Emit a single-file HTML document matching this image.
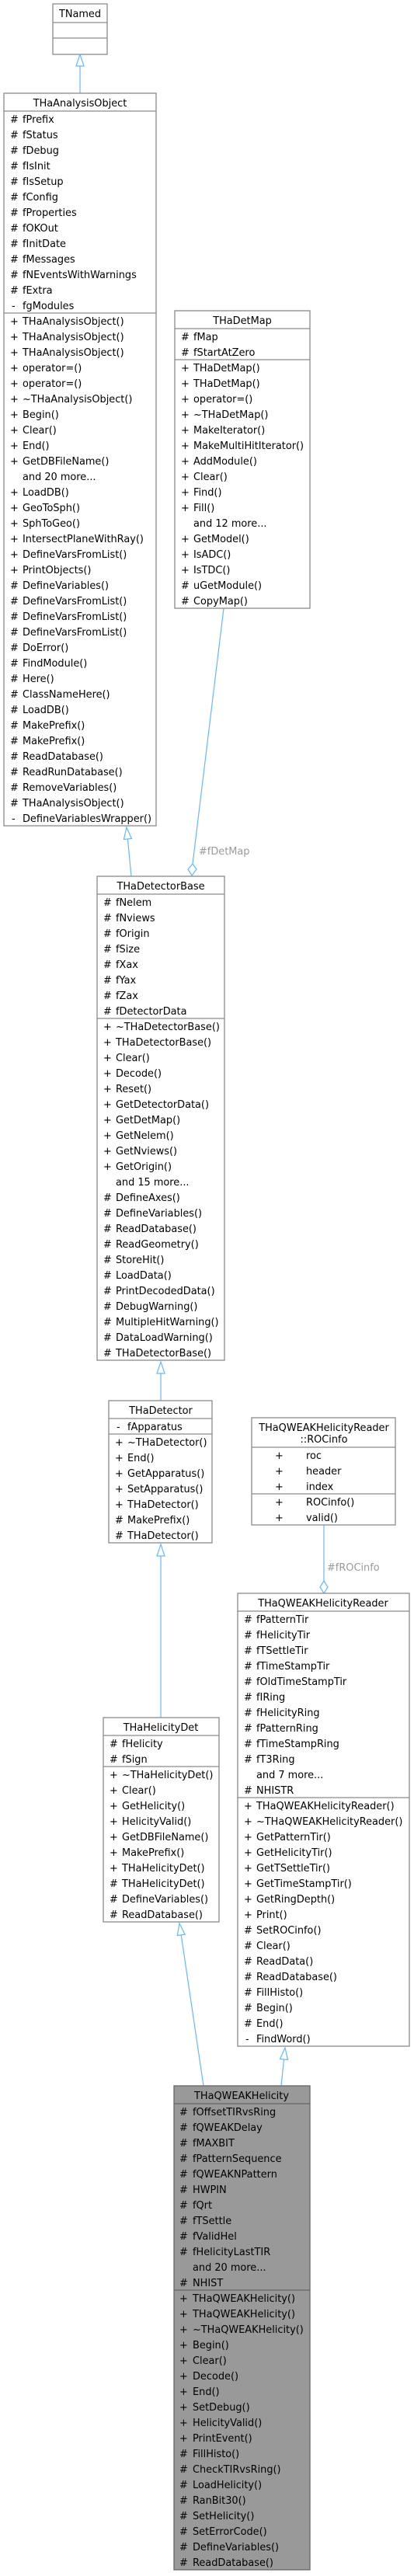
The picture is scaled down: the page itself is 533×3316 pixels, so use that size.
<!DOCTYPE html>
<html><head><meta charset="utf-8"><style>
html,body{margin:0;padding:0;background:#fff}
svg{display:block}
text{font-family:"DejaVu Sans","Liberation Sans",sans-serif;font-size:12.9px;fill:#000}
.c{text-anchor:middle}
.lbl{fill:#9a9a9a}
.b{fill:#fff;stroke:#8a8a8a;stroke-width:1.3}
.g{fill:#999;stroke:#666;stroke-width:1.3}
.s{stroke:#8a8a8a;stroke-width:1.3}
.sg{stroke:#666;stroke-width:1.3}
.e{stroke:#63b8ff;stroke-width:1.2;fill:none}
.ah{stroke:#63b8ff;stroke-width:1.2;fill:#fff}
</style></head><body>
<svg width="533" height="3316" viewBox="0 0 533 3316" xmlns="http://www.w3.org/2000/svg">
<line class="e" x1="103" y1="120" x2="103" y2="85"/>
<polygon class="ah" points="103,70 98,85 108,85"/>
<line class="e" x1="169" y1="1128" x2="164.4" y2="1080"/>
<polygon class="ah" points="163,1065 169.4,1079.5 159.4,1080.5"/>
<line class="e" x1="288" y1="783" x2="248" y2="1112"/>
<polygon class="ah" points="248,1112 253,1119 247,1127 242,1119"/>
<text class="lbl" x="256" y="1100">#fDetMap</text>
<line class="e" x1="207" y1="1803" x2="207" y2="1768"/>
<polygon class="ah" points="207,1753 202,1768 212,1768"/>
<line class="e" x1="207" y1="2211" x2="207" y2="2003"/>
<polygon class="ah" points="207,1988 202,2003 212,2003"/>
<line class="e" x1="417" y1="1963" x2="417" y2="2035"/>
<polygon class="ah" points="417,2035 422,2043 417,2051 412,2043"/>
<text class="lbl" x="421" y="2022">#fROCinfo</text>
<line class="e" x1="262" y1="2685" x2="233.2" y2="2490.8"/>
<polygon class="ah" points="231,2476 238.2,2490.1 228.3,2491.5"/>
<line class="e" x1="362" y1="2685" x2="365.5" y2="2651"/>
<polygon class="ah" points="367,2636 370.5,2651.5 360.5,2650.5"/>

<rect class="b" x="68" y="5" width="70" height="65"/>
<line class="s" x1="68" y1="29" x2="138" y2="29"/><line class="s" x1="68" y1="49" x2="138" y2="49"/>
<text class="c" x="103" y="22">TNamed</text>

<rect class="b" x="5" y="120" width="196" height="943"/>
<line class="s" x1="5" y1="143" x2="201" y2="143"/><line class="s" x1="5" y1="403" x2="201" y2="403"/>
<text class="c" x="103" y="137">THaAnalysisObject</text>
<g>
<text x="13" y="158">#</text><text x="29" y="158">fPrefix</text>
<text x="13" y="178">#</text><text x="29" y="178">fStatus</text>
<text x="13" y="198">#</text><text x="29" y="198">fDebug</text>
<text x="13" y="218">#</text><text x="29" y="218">fIsInit</text>
<text x="13" y="238">#</text><text x="29" y="238">fIsSetup</text>
<text x="13" y="258">#</text><text x="29" y="258">fConfig</text>
<text x="13" y="278">#</text><text x="29" y="278">fProperties</text>
<text x="13" y="298">#</text><text x="29" y="298">fOKOut</text>
<text x="13" y="318">#</text><text x="29" y="318">fInitDate</text>
<text x="13" y="338">#</text><text x="29" y="338">fMessages</text>
<text x="13" y="358">#</text><text x="29" y="358">fNEventsWithWarnings</text>
<text x="13" y="378">#</text><text x="29" y="378">fExtra</text>
<text x="15" y="398">-</text><text x="29" y="398">fgModules</text>
<text x="13" y="418">+</text><text x="29" y="418">THaAnalysisObject()</text>
<text x="13" y="438">+</text><text x="29" y="438">THaAnalysisObject()</text>
<text x="13" y="458">+</text><text x="29" y="458">THaAnalysisObject()</text>
<text x="13" y="478">+</text><text x="29" y="478">operator=()</text>
<text x="13" y="498">+</text><text x="29" y="498">operator=()</text>
<text x="13" y="518">+</text><text x="29" y="518">~THaAnalysisObject()</text>
<text x="13" y="538">+</text><text x="29" y="538">Begin()</text>
<text x="13" y="558">+</text><text x="29" y="558">Clear()</text>
<text x="13" y="578">+</text><text x="29" y="578">End()</text>
<text x="13" y="598">+</text><text x="29" y="598">GetDBFileName()</text>
<text x="29" y="618">and 20 more...</text>
<text x="13" y="638">+</text><text x="29" y="638">LoadDB()</text>
<text x="13" y="658">+</text><text x="29" y="658">GeoToSph()</text>
<text x="13" y="678">+</text><text x="29" y="678">SphToGeo()</text>
<text x="13" y="698">+</text><text x="29" y="698">IntersectPlaneWithRay()</text>
<text x="13" y="718">+</text><text x="29" y="718">DefineVarsFromList()</text>
<text x="13" y="738">+</text><text x="29" y="738">PrintObjects()</text>
<text x="13" y="758">#</text><text x="29" y="758">DefineVariables()</text>
<text x="13" y="778">#</text><text x="29" y="778">DefineVarsFromList()</text>
<text x="13" y="798">#</text><text x="29" y="798">DefineVarsFromList()</text>
<text x="13" y="818">#</text><text x="29" y="818">DefineVarsFromList()</text>
<text x="13" y="838">#</text><text x="29" y="838">DoError()</text>
<text x="13" y="858">#</text><text x="29" y="858">FindModule()</text>
<text x="13" y="878">#</text><text x="29" y="878">Here()</text>
<text x="13" y="898">#</text><text x="29" y="898">ClassNameHere()</text>
<text x="13" y="918">#</text><text x="29" y="918">LoadDB()</text>
<text x="13" y="938">#</text><text x="29" y="938">MakePrefix()</text>
<text x="13" y="958">#</text><text x="29" y="958">MakePrefix()</text>
<text x="13" y="978">#</text><text x="29" y="978">ReadDatabase()</text>
<text x="13" y="998">#</text><text x="29" y="998">ReadRunDatabase()</text>
<text x="13" y="1018">#</text><text x="29" y="1018">RemoveVariables()</text>
<text x="13" y="1038">#</text><text x="29" y="1038">THaAnalysisObject()</text>
<text x="15" y="1058">-</text><text x="29" y="1058">DefineVariablesWrapper()</text>
</g>

<rect class="b" x="225" y="400" width="174" height="383"/>
<line class="s" x1="225" y1="423" x2="399" y2="423"/><line class="s" x1="225" y1="463" x2="399" y2="463"/>
<text class="c" x="312" y="417">THaDetMap</text>
<g>
<text x="233" y="438">#</text><text x="249" y="438">fMap</text>
<text x="233" y="458">#</text><text x="249" y="458">fStartAtZero</text>
<text x="233" y="478">+</text><text x="249" y="478">THaDetMap()</text>
<text x="233" y="498">+</text><text x="249" y="498">THaDetMap()</text>
<text x="233" y="518">+</text><text x="249" y="518">operator=()</text>
<text x="233" y="538">+</text><text x="249" y="538">~THaDetMap()</text>
<text x="233" y="558">+</text><text x="249" y="558">MakeIterator()</text>
<text x="233" y="578">+</text><text x="249" y="578">MakeMultiHitIterator()</text>
<text x="233" y="598">+</text><text x="249" y="598">AddModule()</text>
<text x="233" y="618">+</text><text x="249" y="618">Clear()</text>
<text x="233" y="638">+</text><text x="249" y="638">Find()</text>
<text x="233" y="658">+</text><text x="249" y="658">Fill()</text>
<text x="249" y="678">and 12 more...</text>
<text x="233" y="698">+</text><text x="249" y="698">GetModel()</text>
<text x="233" y="718">+</text><text x="249" y="718">IsADC()</text>
<text x="233" y="738">+</text><text x="249" y="738">IsTDC()</text>
<text x="233" y="758">#</text><text x="249" y="758">uGetModule()</text>
<text x="233" y="778">#</text><text x="249" y="778">CopyMap()</text>
</g>

<rect class="b" x="125" y="1128" width="164" height="623"/>
<line class="s" x1="125" y1="1151" x2="289" y2="1151"/><line class="s" x1="125" y1="1311" x2="289" y2="1311"/>
<text class="c" x="207" y="1145">THaDetectorBase</text>
<g>
<text x="133" y="1166">#</text><text x="149" y="1166">fNelem</text>
<text x="133" y="1186">#</text><text x="149" y="1186">fNviews</text>
<text x="133" y="1206">#</text><text x="149" y="1206">fOrigin</text>
<text x="133" y="1226">#</text><text x="149" y="1226">fSize</text>
<text x="133" y="1246">#</text><text x="149" y="1246">fXax</text>
<text x="133" y="1266">#</text><text x="149" y="1266">fYax</text>
<text x="133" y="1286">#</text><text x="149" y="1286">fZax</text>
<text x="133" y="1306">#</text><text x="149" y="1306">fDetectorData</text>
<text x="133" y="1326">+</text><text x="149" y="1326">~THaDetectorBase()</text>
<text x="133" y="1346">+</text><text x="149" y="1346">THaDetectorBase()</text>
<text x="133" y="1366">+</text><text x="149" y="1366">Clear()</text>
<text x="133" y="1386">+</text><text x="149" y="1386">Decode()</text>
<text x="133" y="1406">+</text><text x="149" y="1406">Reset()</text>
<text x="133" y="1426">+</text><text x="149" y="1426">GetDetectorData()</text>
<text x="133" y="1446">+</text><text x="149" y="1446">GetDetMap()</text>
<text x="133" y="1466">+</text><text x="149" y="1466">GetNelem()</text>
<text x="133" y="1486">+</text><text x="149" y="1486">GetNviews()</text>
<text x="133" y="1506">+</text><text x="149" y="1506">GetOrigin()</text>
<text x="149" y="1526">and 15 more...</text>
<text x="133" y="1546">#</text><text x="149" y="1546">DefineAxes()</text>
<text x="133" y="1566">#</text><text x="149" y="1566">DefineVariables()</text>
<text x="133" y="1586">#</text><text x="149" y="1586">ReadDatabase()</text>
<text x="133" y="1606">#</text><text x="149" y="1606">ReadGeometry()</text>
<text x="133" y="1626">#</text><text x="149" y="1626">StoreHit()</text>
<text x="133" y="1646">#</text><text x="149" y="1646">LoadData()</text>
<text x="133" y="1666">#</text><text x="149" y="1666">PrintDecodedData()</text>
<text x="133" y="1686">#</text><text x="149" y="1686">DebugWarning()</text>
<text x="133" y="1706">#</text><text x="149" y="1706">MultipleHitWarning()</text>
<text x="133" y="1726">#</text><text x="149" y="1726">DataLoadWarning()</text>
<text x="133" y="1746">#</text><text x="149" y="1746">THaDetectorBase()</text>
</g>

<rect class="b" x="140" y="1803" width="133" height="183"/>
<line class="s" x1="140" y1="1826" x2="273" y2="1826"/><line class="s" x1="140" y1="1846" x2="273" y2="1846"/>
<text class="c" x="207" y="1820">THaDetector</text>
<g>
<text x="150" y="1841">-</text><text x="164" y="1841">fApparatus</text>
<text x="148" y="1861">+</text><text x="164" y="1861">~THaDetector()</text>
<text x="148" y="1881">+</text><text x="164" y="1881">End()</text>
<text x="148" y="1901">+</text><text x="164" y="1901">GetApparatus()</text>
<text x="148" y="1921">+</text><text x="164" y="1921">SetApparatus()</text>
<text x="148" y="1941">+</text><text x="164" y="1941">THaDetector()</text>
<text x="148" y="1961">#</text><text x="164" y="1961">MakePrefix()</text>
<text x="148" y="1981">#</text><text x="164" y="1981">THaDetector()</text>
</g>

<rect class="b" x="324" y="1825" width="185" height="138"/>
<line class="s" x1="324" y1="1863" x2="509" y2="1863"/><line class="s" x1="324" y1="1923" x2="509" y2="1923"/>
<text class="c" x="417" y="1842">THaQWEAKHelicityReader</text>
<text class="c" x="417" y="1857">::ROCinfo</text>
<g>
<text x="354" y="1878">+</text><text x="394" y="1878">roc</text>
<text x="354" y="1898">+</text><text x="394" y="1898">header</text>
<text x="354" y="1918">+</text><text x="394" y="1918">index</text>
<text x="354" y="1938">+</text><text x="394" y="1938">ROCinfo()</text>
<text x="354" y="1958">+</text><text x="394" y="1958">valid()</text>
</g>

<rect class="b" x="306" y="2051" width="221" height="583"/>
<line class="s" x1="306" y1="2074" x2="527" y2="2074"/><line class="s" x1="306" y1="2314" x2="527" y2="2314"/>
<text class="c" x="416" y="2068">THaQWEAKHelicityReader</text>
<g>
<text x="314" y="2089">#</text><text x="330" y="2089">fPatternTir</text>
<text x="314" y="2109">#</text><text x="330" y="2109">fHelicityTir</text>
<text x="314" y="2129">#</text><text x="330" y="2129">fTSettleTir</text>
<text x="314" y="2149">#</text><text x="330" y="2149">fTimeStampTir</text>
<text x="314" y="2169">#</text><text x="330" y="2169">fOldTimeStampTir</text>
<text x="314" y="2189">#</text><text x="330" y="2189">fIRing</text>
<text x="314" y="2209">#</text><text x="330" y="2209">fHelicityRing</text>
<text x="314" y="2229">#</text><text x="330" y="2229">fPatternRing</text>
<text x="314" y="2249">#</text><text x="330" y="2249">fTimeStampRing</text>
<text x="314" y="2269">#</text><text x="330" y="2269">fT3Ring</text>
<text x="330" y="2289">and 7 more...</text>
<text x="314" y="2309">#</text><text x="330" y="2309">NHISTR</text>
<text x="314" y="2329">+</text><text x="330" y="2329">THaQWEAKHelicityReader()</text>
<text x="314" y="2349">+</text><text x="330" y="2349">~THaQWEAKHelicityReader()</text>
<text x="314" y="2369">+</text><text x="330" y="2369">GetPatternTir()</text>
<text x="314" y="2389">+</text><text x="330" y="2389">GetHelicityTir()</text>
<text x="314" y="2409">+</text><text x="330" y="2409">GetTSettleTir()</text>
<text x="314" y="2429">+</text><text x="330" y="2429">GetTimeStampTir()</text>
<text x="314" y="2449">+</text><text x="330" y="2449">GetRingDepth()</text>
<text x="314" y="2469">+</text><text x="330" y="2469">Print()</text>
<text x="314" y="2489">#</text><text x="330" y="2489">SetROCinfo()</text>
<text x="314" y="2509">#</text><text x="330" y="2509">Clear()</text>
<text x="314" y="2529">#</text><text x="330" y="2529">ReadData()</text>
<text x="314" y="2549">#</text><text x="330" y="2549">ReadDatabase()</text>
<text x="314" y="2569">#</text><text x="330" y="2569">FillHisto()</text>
<text x="314" y="2589">#</text><text x="330" y="2589">Begin()</text>
<text x="314" y="2609">#</text><text x="330" y="2609">End()</text>
<text x="316" y="2629">-</text><text x="330" y="2629">FindWord()</text>
</g>

<rect class="b" x="133" y="2211" width="149" height="263"/>
<line class="s" x1="133" y1="2234" x2="282" y2="2234"/><line class="s" x1="133" y1="2274" x2="282" y2="2274"/>
<text class="c" x="207" y="2228">THaHelicityDet</text>
<g>
<text x="141" y="2249">#</text><text x="157" y="2249">fHelicity</text>
<text x="141" y="2269">#</text><text x="157" y="2269">fSign</text>
<text x="141" y="2289">+</text><text x="157" y="2289">~THaHelicityDet()</text>
<text x="141" y="2309">+</text><text x="157" y="2309">Clear()</text>
<text x="141" y="2329">+</text><text x="157" y="2329">GetHelicity()</text>
<text x="141" y="2349">+</text><text x="157" y="2349">HelicityValid()</text>
<text x="141" y="2369">+</text><text x="157" y="2369">GetDBFileName()</text>
<text x="141" y="2389">+</text><text x="157" y="2389">MakePrefix()</text>
<text x="141" y="2409">+</text><text x="157" y="2409">THaHelicityDet()</text>
<text x="141" y="2429">#</text><text x="157" y="2429">THaHelicityDet()</text>
<text x="141" y="2449">#</text><text x="157" y="2449">DefineVariables()</text>
<text x="141" y="2469">#</text><text x="157" y="2469">ReadDatabase()</text>
</g>

<rect class="g" x="224" y="2685" width="175" height="623"/>
<line class="sg" x1="224" y1="2708" x2="399" y2="2708"/><line class="sg" x1="224" y1="2948" x2="399" y2="2948"/>
<text class="c" x="311" y="2702">THaQWEAKHelicity</text>
<g>
<text x="231" y="2723">#</text><text x="248" y="2723">fOffsetTIRvsRing</text>
<text x="231" y="2743">#</text><text x="248" y="2743">fQWEAKDelay</text>
<text x="231" y="2763">#</text><text x="248" y="2763">fMAXBIT</text>
<text x="231" y="2783">#</text><text x="248" y="2783">fPatternSequence</text>
<text x="231" y="2803">#</text><text x="248" y="2803">fQWEAKNPattern</text>
<text x="231" y="2823">#</text><text x="248" y="2823">HWPIN</text>
<text x="231" y="2843">#</text><text x="248" y="2843">fQrt</text>
<text x="231" y="2863">#</text><text x="248" y="2863">fTSettle</text>
<text x="231" y="2883">#</text><text x="248" y="2883">fValidHel</text>
<text x="231" y="2903">#</text><text x="248" y="2903">fHelicityLastTIR</text>
<text x="248" y="2923">and 20 more...</text>
<text x="231" y="2943">#</text><text x="248" y="2943">NHIST</text>
<text x="231" y="2963">+</text><text x="248" y="2963">THaQWEAKHelicity()</text>
<text x="231" y="2983">+</text><text x="248" y="2983">THaQWEAKHelicity()</text>
<text x="231" y="3003">+</text><text x="248" y="3003">~THaQWEAKHelicity()</text>
<text x="231" y="3023">+</text><text x="248" y="3023">Begin()</text>
<text x="231" y="3043">+</text><text x="248" y="3043">Clear()</text>
<text x="231" y="3063">+</text><text x="248" y="3063">Decode()</text>
<text x="231" y="3083">+</text><text x="248" y="3083">End()</text>
<text x="231" y="3103">+</text><text x="248" y="3103">SetDebug()</text>
<text x="231" y="3123">+</text><text x="248" y="3123">HelicityValid()</text>
<text x="231" y="3143">+</text><text x="248" y="3143">PrintEvent()</text>
<text x="231" y="3163">#</text><text x="248" y="3163">FillHisto()</text>
<text x="231" y="3183">#</text><text x="248" y="3183">CheckTIRvsRing()</text>
<text x="231" y="3203">#</text><text x="248" y="3203">LoadHelicity()</text>
<text x="231" y="3223">#</text><text x="248" y="3223">RanBit30()</text>
<text x="231" y="3243">#</text><text x="248" y="3243">SetHelicity()</text>
<text x="231" y="3263">#</text><text x="248" y="3263">SetErrorCode()</text>
<text x="231" y="3283">#</text><text x="248" y="3283">DefineVariables()</text>
<text x="231" y="3303">#</text><text x="248" y="3303">ReadDatabase()</text>
</g>
</svg>
</body></html>
